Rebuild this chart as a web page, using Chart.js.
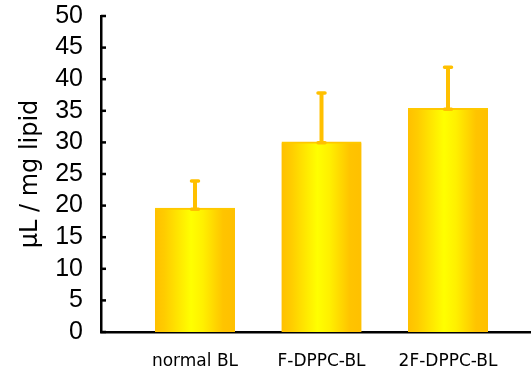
<!DOCTYPE html>
<html>
<head>
<meta charset="utf-8">
<script src="https://cdn.jsdelivr.net/npm/chart.js@4"></script>
<style>
  html, body { margin: 0; background: #fff; }
</style>
</head>
<body>
<canvas id="chart" width="531" height="368"></canvas>
<script>
const categories = ['normal BL', 'F-DPPC-BL', '2F-DPPC-BL'];
const means = [19.6, 30.1, 35.4];
const errors = [4.3, 7.7, 6.5];
const yTicks = [0, 5, 10, 15, 20, 25, 30, 35, 40, 45, 50];

const BAR_W = 80;

// horizontal orange -> yellow -> orange fill, built per bar from the x scale
function barFill(ctx) {
  const chart = ctx.chart;
  const xs = chart.scales.x;
  if (!chart.chartArea || !xs || ctx.dataIndex == null) return '#FFD800';
  const cx = xs.getPixelForValue(ctx.dataIndex);
  if (!Number.isFinite(cx)) return '#FFD800';
  const g = chart.ctx.createLinearGradient(cx - BAR_W / 2, 0, cx + BAR_W / 2, 0);
  g.addColorStop(0, '#FFC000');
  g.addColorStop(0.12, '#FFCC00');
  g.addColorStop(0.45, '#FFFF00');
  g.addColorStop(0.6, '#FFF000');
  g.addColorStop(0.85, '#FFC400');
  g.addColorStop(1, '#FFC000');
  return g;
}

const errorBars = {
  id: 'errorBars',
  afterDatasetsDraw(chart) {
    const { ctx, scales: { x, y } } = chart;
    ctx.save();
    ctx.strokeStyle = '#FFC000';
    means.forEach((m, i) => {
      const px = x.getPixelForValue(i);
      const top = y.getPixelForValue(m + errors[i]);
      const base = y.getPixelForValue(m);
      ctx.lineCap = 'butt';
      ctx.lineWidth = 4;
      ctx.beginPath();
      ctx.moveTo(px, base);
      ctx.lineTo(px, top);
      ctx.stroke();
      ctx.lineCap = 'round';
      ctx.lineWidth = 3.5;
      ctx.beginPath();
      ctx.moveTo(px - 3.5, top);
      ctx.lineTo(px + 3.5, top);
      ctx.moveTo(px - 3.5, base + 1);
      ctx.lineTo(px + 3.5, base + 1);
      ctx.stroke();
    });
    ctx.restore();
  }
};

// inward tick marks on the y axis
const innerTicks = {
  id: 'innerTicks',
  afterDraw(chart) {
    const { ctx, chartArea, scales: { y } } = chart;
    ctx.save();
    ctx.strokeStyle = '#000';
    ctx.lineWidth = 2.5;
    yTicks.forEach(v => {
      const py = y.getPixelForValue(v);
      ctx.beginPath();
      ctx.moveTo(chartArea.left, py);
      ctx.lineTo(chartArea.left + 5, py);
      ctx.stroke();
    });
    ctx.restore();
  }
};

new Chart(document.getElementById('chart'), {
  type: 'bar',
  data: {
    datasets: [{
      data: means.map((v, i) => ({ x: i, y: v })),
      backgroundColor: barFill,
      borderColor: '#FFC800',
      borderWidth: { top: 2, left: 0, right: 0, bottom: 0 },
      borderSkipped: 'bottom',
      barThickness: BAR_W,
    }]
  },
  options: {
    responsive: false,
    devicePixelRatio: 1,
    animation: false,
    layout: { padding: { left: 0, right: 0, top: 16, bottom: 0 } },
    plugins: { legend: { display: false }, tooltip: { enabled: false } },
    scales: {
      x: {
        type: 'linear',
        offset: false,
        min: -0.743,
        max: 2.656,
        z: 1,
        grid: { display: false, offset: false },
        border: { color: '#000', width: 2.5 },
        afterBuildTicks: s => { s.ticks = categories.map((_, i) => ({ value: i })); },
        afterFit: s => { s.height = 36; s.paddingLeft = 0; s.paddingRight = 0; },
        ticks: {
          autoSkip: false,
          maxRotation: 0,
          padding: 11,
          color: '#000',
          font: { family: 'DejaVu Sans', size: 17 },
          callback: v => categories[v]
        }
      },
      y: {
        min: 0,
        max: 50,
        grid: { display: false },
        border: { color: '#000', width: 2.5 },
        afterBuildTicks: s => { s.ticks = yTicks.map(v => ({ value: v })); },
        afterFit: s => { s.width = 101; s.paddingTop = 0; s.paddingBottom = 0; },
        ticks: {
          autoSkip: false,
          padding: 10,
          color: '#000',
          font: { family: 'Liberation Sans', size: 25 }
        },
        title: {
          display: true,
          text: 'µL / mg lipid',
          color: '#000',
          padding: { top: 16, bottom: 0 },
          font: { family: 'DejaVu Sans', size: 24 }
        }
      }
    }
  },
  plugins: [errorBars, innerTicks]
});
</script>
</body>
</html>
